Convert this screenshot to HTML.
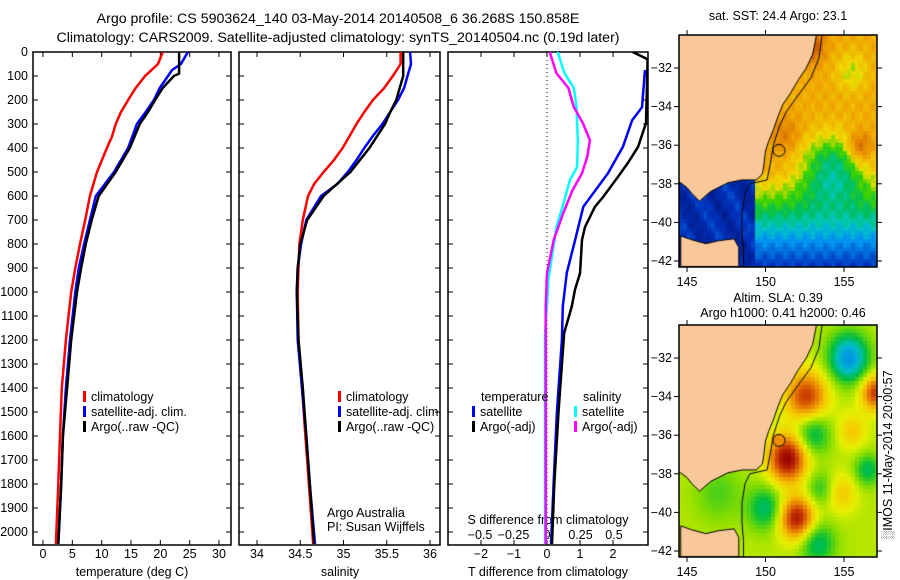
<!DOCTYPE html>
<html><head><meta charset="utf-8"><style>
html,body{margin:0;padding:0;background:#fff;}
#root{position:relative;width:900px;height:580px;overflow:hidden;font-family:"Liberation Sans",sans-serif;}
svg text{font-family:"Liberation Sans",sans-serif;font-size:12.5px;fill:#000;}
canvas{position:absolute;}
</style></head><body>
<div id="root">
<canvas id="sstmap" width="198" height="232" style="left:679px;top:35px"></canvas>
<canvas id="slamap" width="198" height="232" style="left:679px;top:325px"></canvas>
<svg id="fig" width="900" height="580" style="position:absolute;left:0;top:0">
<text x="338" y="23" text-anchor="middle" style="font-size:14.2px">Argo profile: CS 5903624_140 03-May-2014 20140508_6 36.268S 150.858E</text>
<text x="338" y="42" text-anchor="middle" style="font-size:14.2px">Climatology: CARS2009. Satellite-adjusted climatology: synTS_20140504.nc (0.19d later)</text>
<g id="p1"></g>
<g id="p2"></g>
<g id="p3"></g>
<g id="maps"></g>
<text transform="translate(892,455) rotate(-90)" text-anchor="middle">&#x2591;IMOS 11-May-2014 20:00:57</text>
</svg>
</div>
<script>
// ---- data ----
const depthTicks=[0,100,200,300,400,500,600,700,800,900,1000,1100,1200,1300,1400,1500,1600,1700,1800,1900,2000];
const tempTicks=[0,5,10,15,20,25,30];
const salTicks=[34,34.5,35,35.5,36];
const tdiffTicks=[-2,-1,0,1,2];
const sdiffTicks=[-0.5,-0.25,0,0.25,0.5];
const sdiffLabels=["-0.5","-0.25","0","0.25","0.5"];

const tClimDepth=[0,50,100,150,200,250,300,350,400,500,600,700,800,900,1000,1200,1400,1600,1800,2050];
const tClim=[20.4,19.6,17.4,15.8,14.5,13.3,12.4,11.8,10.9,9.2,8.0,7.2,6.3,5.5,4.8,3.9,3.2,2.9,2.6,2.2];
const tSatDepth=[0,50,75,100,150,200,250,300,400,500,600,700,800,900,1000,1200,1400,1600,1800,2050];
const tSat=[24.7,23.5,22.0,21.3,19.9,18.9,17.5,16.0,14.5,12.1,9.0,8.0,7.0,6.1,5.5,4.6,3.9,3.4,3.1,2.6];
const tArgoDepth=[0,90,100,150,200,250,300,400,500,600,700,800,900,1000,1200,1400,1600,1800,2050];
const tArgo=[23.2,23.2,22.3,20.4,19.1,17.9,16.5,14.8,12.4,9.5,8.3,7.3,6.5,5.8,4.8,4.1,3.4,3.1,2.6];

const sDepth=[0,50,100,150,200,250,300,350,400,450,500,550,600,700,800,900,1000,1200,1400,1600,1800,2050];
const sClim=[35.66,35.66,35.57,35.47,35.34,35.24,35.15,35.07,34.99,34.89,34.77,34.66,34.59,34.53,34.49,34.48,34.47,34.48,34.52,34.56,34.60,34.65];
const sSat=[35.77,35.78,35.74,35.70,35.63,35.54,35.45,35.34,35.24,35.15,35.05,34.93,34.74,34.57,34.51,34.47,34.46,34.47,34.52,34.57,34.61,34.67];
const sArgoDepth=[0,100,150,200,250,300,400,500,600,700,800,900,1000,1200,1400,1600,1800,2050];
const sArgo=[35.69,35.69,35.65,35.61,35.54,35.48,35.30,35.08,34.77,34.58,34.50,34.47,34.46,34.48,34.53,34.57,34.61,34.66];

const tdSatDepth=[75,230,285,395,505,645,785,920,1060,1200,1500,1800,2050];
const tdSat=[2.97,2.88,2.58,2.3,1.85,1.1,0.85,0.6,0.48,0.45,0.3,0.2,0.12];
const tdArgoDepth=[0,30,296,395,462,520,604,645,729,783,922,990,1060,1170,1500,1800,2050];
const tdArgo=[2.6,3.05,3.0,2.76,2.45,2.15,1.7,1.45,1.15,1.06,1.0,0.85,0.75,0.52,0.35,0.22,0.15];
const sdDepth=[0,88,150,229,368,479,535,618,729,840,950,1060,1170,1600,2050];
const sdSat=[0.08,0.13,0.2,0.22,0.23,0.225,0.17,0.13,0.07,0.04,0.01,0.0,-0.015,-0.015,-0.015];
const sdArgoDepth=[0,88,150,229,299,368,438,507,576,673,783,922,1060,1600,2050];
const sdArgo=[0.02,0.07,0.16,0.2,0.27,0.32,0.3,0.26,0.19,0.12,0.05,0.0,-0.01,-0.01,-0.01];

// ---- helpers ----
const NS="http://www.w3.org/2000/svg";
function mk(parent,tag,attrs){const e=document.createElementNS(NS,tag);for(const k in attrs)e.setAttribute(k,attrs[k]);parent.appendChild(e);return e;}
const top0=52,bot=545;
function yDepth(d){return top0+d*0.24;}
function scaleX(v0,x0,v1,x1){return v=>x0+(v-v0)*(x1-x0)/(v1-v0);}
const xT=scaleX(0,43,30,219);
const xS=scaleX(34,257,36,430);
const xTD=scaleX(0,547,2,613);
const xSD=scaleX(0,547,0.5,614);

function frame(g,l,r,name){
  const f=mk(g,'rect',{x:l,y:top0,width:r-l,height:bot-top0,fill:'none',stroke:'#000','stroke-width':1.5});
  
  depthTicks.forEach(d=>{const y=yDepth(d);
    mk(g,'line',{x1:l,x2:l+5,y1:y,y2:y,stroke:'#000'});
    mk(g,'line',{x1:r-5,x2:r,y1:y,y2:y,stroke:'#000'});});
}
function xticks(g,ticks,sx,labels,yl){
  ticks.forEach((t,i)=>{const x=sx(t);
    mk(g,'line',{x1:x,x2:x,y1:top0,y2:top0+5,stroke:'#000'});
    mk(g,'line',{x1:x,x2:x,y1:bot-5,y2:bot,stroke:'#000'});
    const tx=mk(g,'text',{x:x,y:yl,'text-anchor':'middle'});tx.textContent=labels?labels[i]:String(t);
    });
}
function line(g,vals,depths,sx,color,name,l,r){
  const cp='cp'+name;const c=mk(g,'clipPath',{id:cp});mk(c,'rect',{x:l,y:top0,width:r-l,height:bot-top0});
  const pts=vals.map((v,i)=>sx(v).toFixed(1)+','+yDepth(depths[i]).toFixed(1)).join(' ');
  const p=mk(g,'polyline',{points:pts,fill:'none',stroke:color,'stroke-width':2.5,'clip-path':'url(#'+cp+')'});
  
}
function txt(g,x,y,s,name,anchor){const t=mk(g,'text',{x:x,y:y,'text-anchor':anchor||'start'});t.textContent=s;
  return t;}
function legend(g,x,y,color,s,name){mk(g,'rect',{x:x,y:y-10,width:3,height:11,fill:color});txt(g,x+8,y,s,name);}

// panel 1
const p1=document.getElementById('p1');
frame(p1,33,231,'temperature');
depthTicks.forEach(d=>{txt(p1,28,yDepth(d)+4,String(d),'y-tick-label','end');});
xticks(p1,tempTicks,xT,null,558);
txt(p1,132,576,'temperature (deg C)','x-axis-title-temperature','middle');
line(p1,tClim,tClimDepth,xT,'#f00','temp-climatology-line',33,231);
line(p1,tSat,tSatDepth,xT,'#00f','temp-satellite-line',33,231);
line(p1,tArgo,tArgoDepth,xT,'#000','temp-argo-line',33,231);
legend(p1,83,401,'#f00','climatology','legend-climatology');
legend(p1,83,416,'#00f','satellite-adj. clim.','legend-satellite');
legend(p1,83,431,'#000','Argo(..raw -QC)','legend-argo');

// panel 2
const p2=document.getElementById('p2');
frame(p2,239,440,'salinity');
xticks(p2,salTicks,xS,null,558);
txt(p2,340,576,'salinity','x-axis-title-salinity','middle');
line(p2,sClim,sDepth,xS,'#f00','sal-climatology-line',239,440);
line(p2,sSat,sDepth,xS,'#00f','sal-satellite-line',239,440);
line(p2,sArgo,sArgoDepth,xS,'#000','sal-argo-line',239,440);
legend(p2,338,401,'#f00','climatology','legend-climatology-sal');
legend(p2,338,416,'#00f','satellite-adj. clim.','legend-satellite-sal');
legend(p2,338,431,'#000','Argo(..raw -QC)','legend-argo-sal');
txt(p2,327,517,'Argo Australia','credit-argo-australia');
txt(p2,327,531,'PI: Susan Wijffels','credit-pi');

// panel 3
const p3=document.getElementById('p3');
frame(p3,448,648,'difference');
tdiffTicks.forEach(t=>{const x=xTD(t);mk(p3,'line',{x1:x,x2:x,y1:top0,y2:top0+5,stroke:'#000'});mk(p3,'line',{x1:x,x2:x,y1:bot-5,y2:bot,stroke:'#000'});
  txt(p3,x,558,String(t).replace('-','\u2212'),'t-diff-tick-label','middle');});
sdiffTicks.forEach((t,i)=>{txt(p3,xSD(t),539,sdiffLabels[i].replace('-','\u2212'),'s-diff-tick-label','middle');});
txt(p3,548,524,'S difference from climatology','s-diff-axis-title','middle');
txt(p3,548,576,'T difference from climatology','t-diff-axis-title','middle');
mk(p3,'line',{x1:547,x2:547,y1:top0,y2:bot,stroke:'#000','stroke-dasharray':'1,3'});
line(p3,sdSat,sdDepth,xSD,'#0ff','sdiff-satellite-line',448,648);
line(p3,sdArgo,sdArgoDepth,xSD,'#f0f','sdiff-argo-line',448,648);
line(p3,tdSat,tdSatDepth,xTD,'#00f','tdiff-satellite-line',448,648);
line(p3,tdArgo,tdArgoDepth,xTD,'#000','tdiff-argo-line',448,648);
txt(p3,481,401,'temperature','legend-title-temperature');
legend(p3,472,416,'#00f','satellite','legend-tdiff-satellite');
legend(p3,472,431,'#000','Argo(-adj)','legend-tdiff-argo');
txt(p3,583,401,'salinity','legend-title-salinity');
legend(p3,574,416,'#0ff','satellite','legend-sdiff-satellite');
legend(p3,574,431,'#f0f','Argo(-adj)','legend-sdiff-argo');

// ---- maps ----
const W=198,H=232;
function lonX(lon){return 8+(lon-145)*15.7;}
function latY(lat){return 33+(-32-lat)*19.3;}
const coast=[[145.0,-38.2],[144.6,-37.95],[144.3,-37.9],[144.2,-30],[153.3,-30],[153.2,-30.5],[153.0,-31.3],[152.6,-32],[152.1,-32.6],[151.6,-33.3],[151.1,-33.9],[150.8,-34.5],[150.5,-35.2],[150.2,-35.8],[150.0,-36.3],[149.9,-37.0],[149.8,-37.5],[149.4,-37.8],[148.5,-37.8],[147.6,-37.95],[146.5,-38.4],[145.8,-38.9],[145.3,-38.5]];
const tas=[[144.6,-40.7],[145.3,-40.9],[146.2,-41.1],[147,-40.95],[148.0,-40.85],[148.3,-41.3],[148.3,-42.3],[144.6,-42.3]];
const iso=[[153.6,-30.3],[153.4,-31.5],[152.9,-32.5],[152.0,-33.5],[151.3,-34.3],[150.9,-35],[150.5,-36],[150.3,-37],[150.1,-37.8],[149.0,-38.0],[148.7,-38.5],[148.5,-39.5],[148.5,-40.5],[148.6,-41.5],[148.6,-42.3]];
function cmapSST(v){const s=[[0,[0,20,120]],[0.15,[0,50,190]],[0.3,[0,150,240]],[0.38,[0,200,190]],[0.45,[0,190,90]],[0.52,[60,210,0]],[0.6,[240,220,0]],[0.72,[240,160,0]],[0.85,[210,100,0]],[1,[150,10,0]]];return interp(s,v);}
function cmapSLA(v){const s=[[0,[0,120,240]],[0.2,[0,190,200]],[0.33,[0,190,60]],[0.45,[130,220,0]],[0.55,[230,240,0]],[0.65,[245,200,0]],[0.78,[230,120,0]],[0.9,[190,40,0]],[1,[150,0,0]]];return interp(s,v);}
function interp(s,v){v=Math.max(0,Math.min(1,v));for(let i=1;i<s.length;i++){if(v<=s[i][0]){const a=s[i-1],b=s[i],f=(v-a[0])/(b[0]-a[0]);return 'rgb('+a[1].map((c,k)=>Math.round(c+(b[1][k]-c)*f)).join(',')+')';}}return 'rgb('+s[s.length-1][1].join(',')+')';}
function g2(lon,lat,cl,ct,r){const d=((lon-cl)**2+(lat-ct)**2)/(r*r);return Math.exp(-d);}
function sstVal(lon,lat){
  let v=0.7;
  if(lat<-37.3)v=0.7-(-37.3-lat)*0.11;
  v-=0.28*Math.exp(-(((lon-154.3)/2.2)**2+((lat+37.2)/1.7)**2));
  v+=0.2*g2(lon,lat,156,-36.1,0.8);
  v+=0.2*g2(lon,lat,152.8,-30.8,0.9);
  v+=0.1*g2(lon,lat,151.3,-35.5,1.0);
  v-=0.12*g2(lon,lat,155.5,-32.2,1.0);
  if(lon<149.3&&lat<-37.5)v=0.12+0.05*Math.sin(lon*3+lat*2);
  v+=0.035*Math.sin(lon*7.3)*Math.cos(lat*6.1);
  return v;}
function slaVal(lon,lat){
  let v=0.5;
  v+=0.5*g2(lon,lat,151.4,-37.2,1.2);
  v+=0.45*g2(lon,lat,152,-40.3,1.1);
  v+=0.38*g2(lon,lat,152.6,-34,1.3);
  v+=0.38*g2(lon,lat,157,-33.8,0.9);
  v+=0.15*g2(lon,lat,155.5,-35.8,0.9);
  v+=0.15*g2(lon,lat,154.8,-39,1.0);
  v-=0.42*g2(lon,lat,155.3,-32,1.2);
  v-=0.22*g2(lon,lat,153,-35.9,1.1);
  v-=0.22*g2(lon,lat,150.0,-39.8,1.1);
  v-=0.22*g2(lon,lat,153.3,-41.6,1.1);
  v-=0.2*g2(lon,lat,156.5,-37.8,0.8);
  v-=0.15*g2(lon,lat,153.5,-38.8,0.9);
  v-=0.1*g2(lon,lat,147,-39,1.5);
  return v;}
function drawMap(id,fn,cm,fill){
  const c=document.getElementById(id).getContext('2d');
  const cell=4;
  for(let px=0;px<W;px+=cell)for(let py=0;py<H;py+=cell){
    const lon=145+(px+2-8)/15.7, lat=-32-(py+2-33)/19.3;
    c.fillStyle=cm(fn(lon,lat));c.fillRect(px,py,cell,cell);}
  const poly=(pts,fc)=>{c.beginPath();pts.forEach((p,i)=>{const x=lonX(p[0]),y=latY(p[1]);i?c.lineTo(x,y):c.moveTo(x,y);});c.closePath();c.fillStyle=fc;c.fill();c.strokeStyle='#000';c.lineWidth=1;c.stroke();};
  poly(coast,'#f9c89a');poly(tas,'#f9c89a');
  c.beginPath();iso.forEach((p,i)=>{const x=lonX(p[0]),y=latY(p[1]);i?c.lineTo(x,y):c.moveTo(x,y);});c.strokeStyle='#000';c.stroke();
  c.beginPath();c.arc(lonX(150.858),latY(-36.268),6,0,7);if(fill){c.fillStyle=fill;c.fill();}c.strokeStyle='#000';c.stroke();
}
drawMap('sstmap',sstVal,cmapSST,null);
drawMap('slamap',slaVal,cmapSLA,'#f08c00');

const gm=document.getElementById('maps');
const latT=[-32,-34,-36,-38,-40,-42],lonT=[145,150,155];
[[35,'sst-map'],[325,'sla-map']].forEach(([oy,nm])=>{
  const r=mk(gm,'rect',{x:679,y:oy,width:198,height:232,fill:'none',stroke:'#000','stroke-width':1.5});
  
  latT.forEach(l=>{const y=oy+latY(l);mk(gm,'line',{x1:674,x2:679,y1:y,y2:y,stroke:'#000'});mk(gm,'line',{x1:877,x2:882,y1:y,y2:y,stroke:'#000'});
    txt(gm,672,y+4,String(l).replace('-','\u2212'),nm+'-lat-label','end');});
  lonT.forEach(l=>{const x=679+lonX(l);mk(gm,'line',{x1:x,x2:x,y1:oy-5,y2:oy,stroke:'#000'});mk(gm,'line',{x1:x,x2:x,y1:oy+232,y2:oy+237,stroke:'#000'});
    txt(gm,x,oy+251,String(l),nm+'-lon-label','middle');});
});
txt(gm,778,20,'sat. SST: 24.4 Argo: 23.1','sst-map-title','middle');
txt(gm,778,302,'Altim. SLA: 0.39','sla-map-title','middle');
txt(gm,783,317,'Argo h1000: 0.41 h2000: 0.46','sla-map-subtitle','middle');
</script>
</body></html>
